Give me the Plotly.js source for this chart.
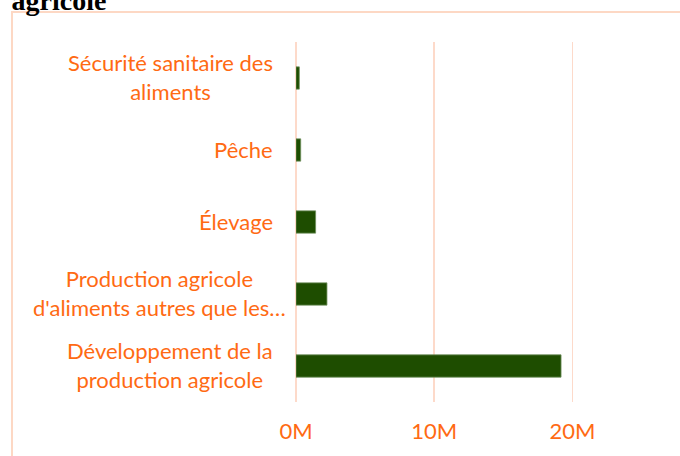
<!DOCTYPE html>
<html>
<head>
<meta charset="utf-8">
<script src="https://cdn.plot.ly/plotly-3.0.1.min.js"></script>
<style>
  html, body { margin: 0; padding: 0; background: #fff; overflow: hidden; }
  #chart { width: 680px; height: 456px; }
</style>
</head>
<body>
<div id="chart"></div>
<script>
// categories top to bottom, as in the picture
const categories = [
    'Sécurité sanitaire des<br>aliments',
    'Pêche',
    'Élevage',
    'Production agricole<br>d\'aliments autres que les…',
    'Développement de la<br>production agricole'
];
// amounts in millions
const amounts = [0.24, 0.34, 1.42, 2.24, 19.18];
const tickValues = [0, 10, 20];
const tickLabels = ['0M', '10M', '20M'];

const orange = '#FF6A13';
const peach = '#FDDACA';
const labelFont = 'Lato, "Open Sans", sans-serif';

const trace = {
    type: 'bar',
    orientation: 'h',
    x: amounts,
    y: categories,
    marker: { color: '#1E4D00', line: { color: '#6F8F5C', width: 0.8 } },
    hoverinfo: 'x+y'
};

// Excel-style category labels: block right aligned, lines centred
// (the truncated one overflows a bit to the right, like in Excel)
const labels = categories.map(c => ({
    xref: 'paper',
    yref: 'y',
    x: -0.058,
    y: c,
    xshift: c.endsWith('…') ? 13 : 0,
    yshift: 1,
    xanchor: 'right',
    yanchor: 'middle',
    align: 'center',
    text: c,
    showarrow: false,
    font: { family: labelFont, size: 22, color: orange }
}));

const layout = {
    width: 680,
    height: 456,
    margin: { l: 296, r: 20, t: 42, b: 54 },
    paper_bgcolor: '#fff',
    plot_bgcolor: '#fff',
    showlegend: false,
    bargap: 0.69,
    title: {
        text: 'agricole',
        font: { family: '"Liberation Serif", "DejaVu Serif", serif', size: 28, color: '#000', weight: 'bold' },
        xref: 'container',
        yref: 'container',
        x: 0.017,
        xanchor: 'left',
        y: 1,
        yanchor: 'middle'
    },
    xaxis: {
        range: [0, 26.34],
        tickmode: 'array',
        tickvals: tickValues,
        ticktext: tickLabels,
        showgrid: true,
        gridcolor: peach,
        gridwidth: 1.5,
        zeroline: true,
        zerolinecolor: peach,
        zerolinewidth: 1.5,
        showline: false,
        ticks: '',
        ticklabelstandoff: 14,
        tickfont: { family: labelFont, size: 22, color: orange },
        fixedrange: true
    },
    yaxis: {
        type: 'category',
        autorange: 'reversed',
        showticklabels: false,
        showgrid: false,
        zeroline: false,
        showline: false,
        ticks: '',
        fixedrange: true
    },
    annotations: labels,
    shapes: [{
        type: 'rect',
        xref: 'paper',
        yref: 'paper',
        x0: -0.7802, x1: 1.09,
        y0: -0.2, y1: 1.0833,
        line: { color: '#FDD8C4', width: 2 },
        fillcolor: 'rgba(0,0,0,0)',
        layer: 'below'
    }]
};

Plotly.newPlot('chart', [trace], layout, { displayModeBar: false, staticPlot: true });
</script>
</body>
</html>
